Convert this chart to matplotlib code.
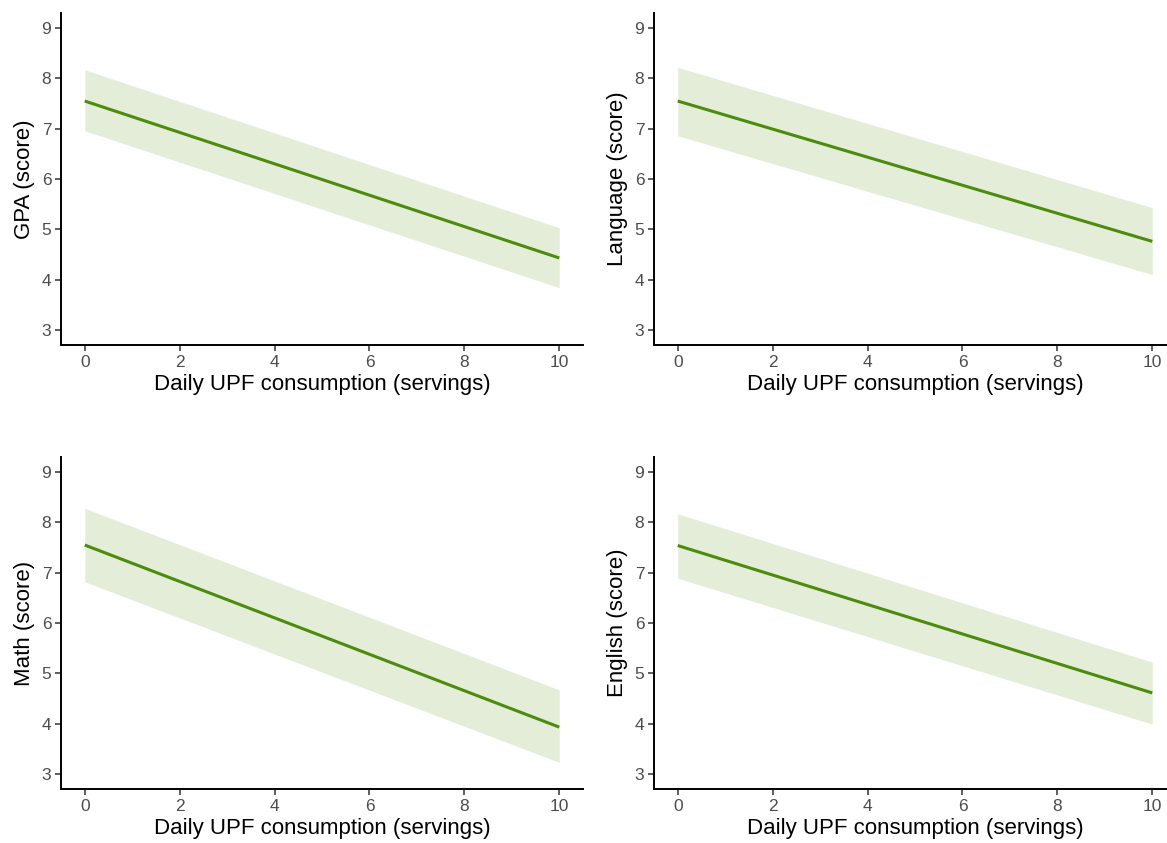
import matplotlib.pyplot as plt

# servings range used for the predictions
servings = [0, 10]

# fitted line and confidence band for each outcome
gpa_fit = [7.55, 4.43]
gpa_lo = [6.96, 3.84]
gpa_hi = [8.17, 5.03]

lang_fit = [7.55, 4.76]
lang_lo = [6.86, 4.10]
lang_hi = [8.22, 5.43]

math_fit = [7.55, 3.93]
math_lo = [6.82, 3.23]
math_hi = [8.28, 4.67]

eng_fit = [7.54, 4.61]
eng_lo = [6.89, 3.99]
eng_hi = [8.17, 5.22]

labels = ['GPA (score)', 'Language (score)', 'Math (score)', 'English (score)']
fits = [gpa_fit, lang_fit, math_fit, eng_fit]
lows = [gpa_lo, lang_lo, math_lo, eng_lo]
highs = [gpa_hi, lang_hi, math_hi, eng_hi]

plt.rcParams['font.family'] = ['Liberation Sans', 'DejaVu Sans']

W, H = 1167, 843
fig = plt.figure(figsize=(W / 100, H / 100), dpi=100)

# axes boxes in pixels: left, top, right, bottom
boxes = [(61, 13, 583, 345), (654, 13, 1176, 345),
         (61, 457, 583, 789), (654, 457, 1176, 789)]

line_col = '#4b8c0c'
band_col = '#e3edd8'

for box, lab, fit, lo, hi in zip(boxes, labels, fits, lows, highs):
    l, t, r, b = box
    ax = fig.add_axes([l / W, 1 - b / H, (r - l) / W, (b - t) / H])
    ax.fill_between(servings, lo, hi, color=band_col, linewidth=0)
    ax.plot(servings, fit, color=line_col, linewidth=2.2, solid_capstyle='butt')
    ax.set_xlim(-0.5, 10.5)
    ax.set_ylim(2.7, 9.3)
    ax.set_xticks([0, 2, 4, 6, 8, 10])
    ax.set_yticks([3, 4, 5, 6, 7, 8, 9])
    for s in ['top', 'right']:
        ax.spines[s].set_visible(False)
    for s in ['left', 'bottom']:
        ax.spines[s].set_linewidth(1.4)
        ax.spines[s].set_color('black')
    ax.tick_params(length=4, width=1.1, color='#333333', labelcolor='#4d4d4d',
                   labelsize=12.5, pad=3)
    ax.set_xlabel('Daily UPF consumption (servings)', fontsize=16, labelpad=3)
    ax.set_ylabel(lab, fontsize=16, labelpad=5)

plt.savefig('out.png', dpi=100)
